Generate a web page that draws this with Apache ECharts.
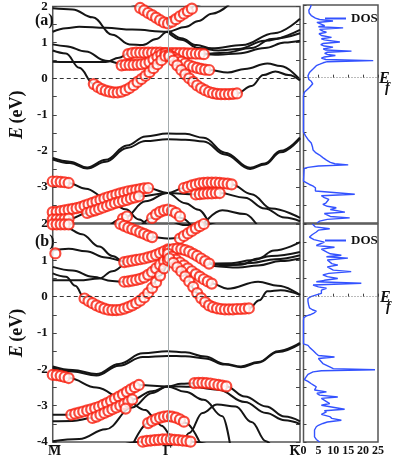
<!DOCTYPE html>
<html>
<head>
<meta charset="utf-8">
<script src="https://cdn.jsdelivr.net/npm/echarts@6/dist/echarts.min.js"></script>
<style>
html, body { margin: 0; padding: 0; background: #fff; }
#main { width: 398px; height: 457px; }
</style>
</head>
<body>
<div id="main"></div>
<script>
// k path: M = 0, Gamma = 0.866, K = 1.866
const GAMMA = 0.866;
const KMAX = 1.866;
const STEP = 0.03;
const kLabels = ['M', 'Γ', 'K'];
const kTicks = [0, GAMMA, KMAX];

// ---------- panel (a) bands [k, E] ----------
const bandA1 = [[0.45, 2.5], [0.63, 2.03], [0.75, 1.76], [0.866, 1.53], [0.97, 1.76], [1.08, 2.03], [1.25, 2.5]];
const bandA2 = [[0, 1.3], [0.1, 1.4], [0.2, 1.44], [0.4, 1.41], [0.6, 1.36], [0.866, 1.3], [1.0, 1.43], [1.1, 1.6], [1.2, 1.8], [1.33, 2.05]];
const bandA3 = [[0, 1.95], [0.15, 1.92], [0.3, 1.7], [0.45, 1.22], [0.58, 0.95], [0.68, 0.93], [0.78, 1.1], [0.866, 1.3], [0.97, 1.12], [1.085, 0.93], [1.2, 0.84], [1.43, 0.93], [1.67, 1.26], [1.866, 1.66]];
const bandA4 = [[0, 0.95], [0.1, 0.9], [0.25, 0.75], [0.4, 0.5], [0.55, 0.38], [0.65, 0.39], [0.73, 0.42], [0.79, 0.53], [0.866, 0.7], [0.94, 0.53], [1.03, 0.37], [1.12, 0.27], [1.18, 0.24], [1.32, 0.17], [1.45, 0.27], [1.62, 0.42], [1.72, 0.35], [1.866, -0.03]];
const bandA5 = [[0, 0.47], [0.2, 0.46], [0.4, 0.46], [0.5, 0.58], [0.57, 0.69], [0.7, 0.72], [0.866, 0.71], [1.0, 0.71], [1.14, 0.68], [1.25, 0.66], [1.4, 0.7], [1.6, 0.85], [1.75, 1.0], [1.866, 1.05]];
const bandA6 = [[0, 0.78], [0.1, 0.7], [0.2, 0.3], [0.31, -0.15], [0.4, -0.33], [0.47, -0.38], [0.56, -0.31], [0.68, 0.01], [0.79, 0.43], [0.866, 0.7], [0.91, 0.5], [0.97, 0.24], [1.03, 0.01], [1.09, -0.19], [1.15, -0.32], [1.21, -0.4], [1.3, -0.43], [1.39, -0.41], [1.5, -0.2], [1.59, 0.1], [1.68, 0.2], [1.78, 0.1], [1.866, -0.05]];
const bandA7 = [[0.866, 1.3], [0.97, 1.08], [1.1, 0.85], [1.25, 0.78], [1.4, 0.82], [1.6, 1.05], [1.866, 1.35]];
const bandA8 = [[1.0, 0.7], [1.14, 0.69], [1.3, 0.72], [1.5, 0.85], [1.65, 1.1], [1.866, 1.26]];
const bandA9 = [[0, -2.2], [0.13, -2.3], [0.26, -2.46], [0.4, -2.25], [0.56, -1.85], [0.7, -1.6], [0.866, -1.52], [1.0, -1.53], [1.14, -1.64], [1.3, -2.05], [1.49, -2.47], [1.6, -2.35], [1.72, -2.0], [1.866, -1.63]];
const bandA10 = [[0, -2.24], [0.13, -2.34], [0.26, -2.49], [0.4, -2.3], [0.56, -1.92], [0.7, -1.73], [0.866, -1.68], [1.0, -1.69], [1.14, -1.74], [1.3, -2.1], [1.49, -2.5], [1.6, -2.38], [1.72, -2.04], [1.866, -1.66]];
const bandA11 = [[0, -2.85], [0.12, -2.89], [0.25, -3.05], [0.4, -3.3], [0.55, -3.62], [0.65, -3.9], [0.72, -4.1]];
const bandA12 = [[0, -3.7], [0.21, -3.56], [0.45, -3.25], [0.6, -3.1], [0.72, -3.03], [0.866, -3.17], [1.0, -3.45], [1.1, -3.63], [1.19, -4.1]];
const bandA13 = [[0, -3.9], [0.13, -3.88], [0.26, -3.72], [0.45, -3.48], [0.655, -3.26], [0.866, -3.17], [1.08, -3.21], [1.26, -3.17], [1.45, -3.3], [1.6, -3.6], [1.75, -3.85], [1.866, -3.95]];
const bandA14 = [[0.42, -4.1], [0.54, -3.86], [0.7, -3.4], [0.866, -3.17], [0.99, -3.03], [1.14, -2.89], [1.35, -2.93], [1.5, -3.2], [1.65, -3.6], [1.866, -3.86]];
const bandA15 = [[0.66, -4.1], [0.75, -3.86], [0.866, -3.63], [0.97, -3.86], [1.05, -4.1]];
const bandA16 = [[1.12, -4.1], [1.28, -3.65], [1.45, -3.75], [1.55, -4.1]];

// ---------- panel (a) projected weights: start k and E per circle ----------
const redA_V = { k0: 0.60, e: [2.10, 2.03, 1.96, 1.89, 1.82, 1.76, 1.69, 1.62, 1.56, 1.53, 1.58, 1.65, 1.73, 1.80, 1.87, 1.94, 2.01, 2.08] };
const redA_flat = { k0: 0.57, e: [0.68, 0.71, 0.72, 0.72, 0.72, 0.72, 0.72, 0.72, 0.72, 0.71, 0.71, 0.71, 0.71, 0.71, 0.71, 0.70, 0.70, 0.69, 0.69, 0.68] };
const redA_low = { k0: 0.52, e: [0.37, 0.38, 0.38, 0.38, 0.39, 0.40, 0.42, 0.46, 0.53, 0.60, 0.67, 0.70] };
const redA_para = { k0: 0.31, e: [-0.15, -0.23, -0.29, -0.33, -0.36, -0.38, -0.38, -0.36, -0.32, -0.26, -0.18, -0.09, -0.01, 0.08, 0.18, 0.29, 0.40, 0.51, 0.63] };
const redA_midR = { k0: 0.88, e: [0.66, 0.59, 0.53, 0.47, 0.42, 0.37, 0.33, 0.30, 0.27, 0.25, 0.24] };
const redA_lowR = { k0: 0.88, e: [0.62, 0.50, 0.37, 0.24, 0.12, 0.01, -0.09, -0.19, -0.26, -0.32, -0.37, -0.40, -0.42, -0.43, -0.43, -0.43, -0.42, -0.41] };
const redA_1 = { k0: 0, e: [-2.85, -2.85, -2.86, -2.87, -2.89] };
const redA_2 = { k0: 0, e: [-3.70, -3.69, -3.67, -3.65, -3.63, -3.61, -3.59, -3.56, -3.52, -3.48, -3.44, -3.40, -3.36, -3.32, -3.28, -3.25, -3.21, -3.18, -3.15, -3.12, -3.10, -3.08, -3.06, -3.04, -3.03] };
const redA_3 = { k0: 0, e: [-3.90, -3.90, -3.90, -3.89, -3.88] };
const redA_4 = { k0: 0.26, e: [-3.72, -3.68, -3.65, -3.61, -3.57, -3.53, -3.49, -3.45, -3.42, -3.39, -3.36, -3.32, -3.29, -3.26] };
const redA_5 = { k0: 0.53, e: [-3.88, -3.82] };
const redA_6 = { k0: 0.75, e: [-3.86, -3.76, -3.69, -3.65, -3.63, -3.66, -3.72, -3.82] };
const redA_7 = { k0: 0.99, e: [-3.03, -3.00, -2.96, -2.93, -2.90, -2.89, -2.88, -2.88, -2.88, -2.89, -2.90, -2.91, -2.93] };
const redA_8 = { k0: 1.08, e: [-3.21, -3.20, -3.19, -3.18, -3.18, -3.17, -3.17] };

// ---------- panel (b) bands ----------
const bandB1 = [[0.4, 2.25], [0.49, 2.05], [0.63, 1.82], [0.75, 1.64], [0.866, 1.6], [0.96, 1.62], [1.04, 1.8], [1.14, 2.0], [1.22, 2.2]];
const bandB2 = [[0, 1.98], [0.1, 1.9], [0.22, 1.72], [0.35, 1.38], [0.45, 1.12], [0.54, 0.95], [0.72, 1.08], [0.866, 1.3], [0.94, 1.32], [1.06, 1.18], [1.18, 0.91], [1.3, 0.86], [1.42, 0.88], [1.55, 1.05], [1.67, 1.27], [1.866, 1.5]];
const bandB3 = [[0, 1.27], [0.12, 1.32], [0.25, 1.25], [0.4, 1.08], [0.54, 0.97], [0.72, 1.05], [0.866, 1.18], [0.99, 0.86], [1.2, 0.36], [1.32, 0.22], [1.55, 0.41], [1.7, 0.3], [1.866, 0.05]];
const bandB4 = [[0, 0.82], [0.15, 0.72], [0.3, 0.55], [0.45, 0.43], [0.54, 0.41], [0.66, 0.49], [0.75, 0.68], [0.866, 1.08], [0.99, 0.64], [1.09, 0.1], [1.2, -0.28], [1.35, -0.35], [1.48, -0.32], [1.56, -0.1], [1.62, 0.15], [1.72, 0.18], [1.866, 0.05]];
const bandB5 = [[0, 0.64], [0.1, 0.55], [0.17, 0.3], [0.24, -0.05], [0.33, -0.24], [0.45, -0.37], [0.54, -0.33], [0.63, -0.18], [0.72, 0.1], [0.81, 0.58], [0.866, 0.95]];
const bandB6 = [[0, 0.45], [0.2, 0.45], [0.35, 0.5], [0.45, 0.7], [0.54, 0.93]];
const bandB7 = [[1.18, 0.91], [1.35, 0.92], [1.5, 1.0], [1.65, 1.12], [1.866, 1.23]];
const bandB8 = [[1.18, 0.91], [1.35, 0.88], [1.5, 0.93], [1.68, 1.03], [1.866, 1.14]];
const bandB9 = [[1.2, 0.85], [1.4, 0.8], [1.55, 0.86], [1.72, 0.98], [1.866, 1.05]];
const bandB10 = [[0.48, 2.08], [0.55, 1.95], [0.62, 2.08]];
const bandB11 = [[0.9, 2.08], [1.0, 1.97], [1.12, 1.97], [1.25, 2.08]];
const bandB12 = [[0, -1.92], [0.15, -2.02], [0.33, -2.13], [0.5, -1.85], [0.68, -1.56], [0.866, -1.5], [1.0, -1.53], [1.15, -1.65], [1.3, -1.85], [1.42, -1.92], [1.55, -1.8], [1.7, -1.5], [1.866, -1.27]];
const bandB13 = [[0, -1.96], [0.15, -2.06], [0.33, -2.17], [0.5, -1.9], [0.68, -1.66], [0.866, -1.63], [1.0, -1.64], [1.15, -1.7], [1.3, -1.87], [1.42, -1.94], [1.55, -1.82], [1.7, -1.52], [1.866, -1.3]];
const bandB14 = [[0, -2.15], [0.12, -2.24], [0.33, -2.5], [0.56, -2.88], [0.7, -3.12], [0.76, -3.3], [0.82, -3.55], [0.9, -3.85], [0.98, -4.1]];
const bandB15 = [[0, -3.25], [0.14, -3.25], [0.35, -3.03], [0.5, -2.75], [0.65, -2.43], [0.866, -2.47], [1.0, -2.62], [1.14, -2.84], [1.28, -3.29], [1.34, -4.1]];
const bandB16 = [[0, -3.43], [0.15, -3.42], [0.3, -3.34], [0.45, -3.1], [0.6, -2.83], [0.75, -2.6], [0.866, -2.47], [0.97, -2.4], [1.07, -2.38], [1.2, -2.39], [1.31, -2.47], [1.45, -2.75], [1.61, -3.02], [1.75, -3.3], [1.866, -3.43]];
const bandB17 = [[0, -3.98], [0.2, -3.92], [0.4, -3.65], [0.6, -3.05], [0.75, -2.65], [0.866, -2.47], [1.05, -2.48], [1.25, -2.56], [1.45, -2.9], [1.61, -3.2], [1.75, -3.4], [1.866, -3.5]];
const bandB18 = [[0.6, -4.1], [0.725, -3.47], [0.866, -3.29], [1.0, -3.47], [1.12, -4.1]];
const bandB19 = [[0.98, -4.1], [1.03, -3.75], [1.13, -3.2], [1.24, -2.97], [1.38, -3.02], [1.5, -3.45], [1.61, -3.98], [1.65, -4.1]];
const bandB20 = [[0.5, -4.1], [0.68, -3.99], [0.866, -3.93], [1.05, -3.99], [1.2, -4.1]];

// ---------- panel (b) projected weights ----------
const redB_top = { k0: 0, e: [1.99, 1.99, 1.99, 1.99, 1.99] };
const redB_single = { k0: 0.02, e: [1.19] };
const redB_VL = { k0: 0.48, e: [2.06, 2.0, 1.95, 1.9, 1.86, 1.82, 1.77, 1.73, 1.68, 1.64] };
const redB_VR = { k0: 0.96, e: [1.60, 1.67, 1.74, 1.81, 1.88, 1.94, 2.0] };
const redB_A = { k0: 0.54, e: [0.95, 0.97, 0.99, 1.01, 1.03, 1.05, 1.08, 1.11, 1.15, 1.2, 1.25, 1.3] };
const redB_B = { k0: 0.54, e: [0.41, 0.42, 0.44, 0.46, 0.49, 0.53, 0.6, 0.68, 0.78, 0.88, 0.98, 1.08] };
const redB_para = { k0: 0.24, e: [-0.05, -0.12, -0.18, -0.24, -0.29, -0.33, -0.36, -0.37, -0.37, -0.36, -0.33, -0.29, -0.24, -0.18, -0.11, -0.02, 0.10, 0.24, 0.40, 0.58, 0.78, 1.0] };
const redB_upR = { k0: 0.88, e: [1.28, 1.31, 1.32, 1.31, 1.28, 1.24, 1.18, 1.12, 1.05, 0.98, 0.91] };
const redB_midR = { k0: 0.87, e: [1.18, 1.1, 1.02, 0.94, 0.86, 0.78, 0.7, 0.62, 0.55, 0.48, 0.42, 0.36] };
const redB_lowR = { k0: 0.88, e: [1.05, 0.93, 0.81, 0.70, 0.56, 0.42, 0.27, 0.10, -0.04, -0.15, -0.24, -0.29, -0.32, -0.34, -0.35, -0.35, -0.35, -0.34, -0.34, -0.33, -0.32] };
const redB_1 = { k0: 0, e: [-2.15, -2.16, -2.18, -2.21, -2.24] };
const redB_2 = { k0: 0.14, e: [-3.25, -3.22, -3.19, -3.16, -3.13, -3.10, -3.07, -3.03, -2.98, -2.93, -2.87, -2.81, -2.75, -2.69, -2.62, -2.55, -2.49, -2.43] };
const redB_3 = { k0: 0.30, e: [-3.34, -3.30, -3.25, -3.20, -3.15, -3.10, -3.05, -3.00, -2.95, -2.89, -2.83] };
const redB_4 = { k0: 0.72, e: [-3.48, -3.42, -3.37, -3.33, -3.30, -3.29, -3.30, -3.33, -3.38, -3.44] };
const redB_5 = { k0: 1.07, e: [-2.38, -2.37, -2.37, -2.38, -2.39, -2.41, -2.43, -2.45, -2.47] };
const redB_6 = { k0: 0.68, e: [-3.99, -3.97, -3.96, -3.95, -3.94, -3.93, -3.93, -3.93, -3.94, -3.95, -3.96, -3.97, -3.99] };
const redB_7 = { k0: 0.55, e: [-3.08] };

// ---------- DOS (E, states/eV) ----------
const dosA_E = [2.0, 1.93, 1.86, 1.78, 1.71, 1.64, 1.6, 1.56, 1.52, 1.47, 1.43, 1.4, 1.37, 1.33, 1.28, 1.25, 1.21, 1.16, 1.11, 1.07, 1.04, 0.98, 0.94, 0.91, 0.87, 0.84, 0.79, 0.76, 0.73, 0.7, 0.67, 0.64, 0.61, 0.57, 0.54, 0.5, 0.47, 0.44, 0.41, 0.37, 0.33, 0.28, 0.23, 0.18, 0.14, 0.09, 0.05, 0.0, -0.05, -0.1, -0.17, -0.22, -0.27, -0.33, -0.4, -0.5, -1.0, -1.5, -1.55, -1.6, -1.65, -1.7, -1.75, -1.8, -1.9, -1.99, -2.07, -2.13, -2.2, -2.27, -2.33, -2.37, -2.4, -2.43, -2.47, -2.5, -2.85, -2.89, -2.94, -2.98, -3.03, -3.07, -3.12, -3.17, -3.21, -3.25, -3.3, -3.35, -3.4, -3.45, -3.49, -3.54, -3.58, -3.63, -3.7, -3.74, -3.77, -3.82, -3.86, -3.9, -3.95, -4.0];
const dosA_V = [2.6, 2.3, 1.8, 1.9, 2.6, 4.0, 5.4, 9.9, 4.5, 4.8, 7.1, 5.0, 13.3, 5.4, 6.5, 7.7, 5.2, 6.0, 9.4, 6.0, 7.0, 12.2, 6.5, 5.8, 7.0, 9.9, 6.6, 7.5, 16.1, 8.0, 7.1, 8.0, 10.7, 7.0, 6.0, 7.5, 23.4, 8.0, 6.6, 5.5, 4.3, 3.8, 3.1, 2.5, 2.0, 1.7, 1.5, 1.2, 1.8, 2.6, 3.1, 2.8, 2.0, 1.2, 0.3, 0.0, 0.0, 0.0, 0.5, 0.7, 0.4, 1.5, 1.8, 2.6, 3.0, 3.2, 4.2, 5.4, 6.5, 7.7, 9.0, 10.5, 15.0, 5.0, 1.5, 0.2, 0.0, 0.9, 2.0, 3.1, 4.0, 4.3, 4.0, 3.8, 17.2, 6.0, 7.0, 8.5, 9.0, 7.5, 6.5, 8.0, 11.0, 9.0, 13.9, 7.0, 7.5, 9.0, 15.5, 8.0, 5.4, 4.5];
const dosB_E = [2.0, 1.96, 1.92, 1.87, 1.83, 1.78, 1.71, 1.64, 1.57, 1.5, 1.45, 1.41, 1.36, 1.31, 1.27, 1.22, 1.18, 1.14, 1.1, 1.06, 1.01, 0.96, 0.91, 0.87, 0.82, 0.78, 0.73, 0.69, 0.64, 0.6, 0.55, 0.5, 0.45, 0.41, 0.37, 0.32, 0.27, 0.23, 0.18, 0.14, 0.09, 0.05, 0.0, -0.05, -0.13, -0.22, -0.31, -0.36, -0.4, -0.45, -0.49, -0.53, -0.58, -0.65, -1.3, -1.34, -1.41, -1.48, -1.57, -1.62, -1.66, -1.7, -1.75, -1.84, -1.93, -1.98, -2.01, -2.04, -2.07, -2.14, -2.21, -2.28, -2.33, -2.39, -2.44, -2.48, -2.53, -2.57, -2.62, -2.66, -2.71, -2.76, -2.8, -2.85, -2.9, -2.94, -2.99, -3.03, -3.1, -3.14, -3.17, -3.24, -3.3, -3.35, -3.4, -3.45, -3.49, -3.54, -3.58, -3.67, -3.77, -3.86, -3.93, -4.0];
const dosB_V = [3.0, 3.2, 4.0, 8.8, 5.0, 4.3, 3.0, 2.0, 3.5, 7.0, 5.5, 4.3, 10.4, 6.0, 6.5, 8.0, 9.0, 12.7, 7.7, 14.9, 8.0, 7.7, 9.5, 11.5, 8.0, 7.7, 10.0, 16.0, 8.5, 6.5, 8.0, 11.5, 7.0, 4.3, 19.4, 3.2, 5.0, 7.7, 6.0, 5.4, 6.0, 4.3, 2.5, 1.5, 1.5, 1.7, 2.0, 3.0, 4.3, 3.5, 2.5, 1.0, 0.1, 0.0, 0.0, 1.5, 2.2, 3.2, 4.3, 5.0, 10.4, 5.0, 5.4, 6.5, 8.8, 10.0, 24.0, 6.0, 3.2, 1.5, 0.9, 0.3, 1.5, 2.5, 3.5, 4.3, 4.0, 3.7, 7.7, 4.5, 5.4, 11.5, 6.0, 6.5, 8.0, 8.8, 6.0, 6.5, 13.8, 7.0, 7.7, 6.0, 8.8, 9.5, 12.7, 8.0, 6.5, 5.0, 4.3, 3.7, 3.7, 3.7, 4.3, 5.4];

const bandsA = [bandA1, bandA2, bandA3, bandA4, bandA5, bandA6, bandA7, bandA8, bandA9, bandA10, bandA11, bandA12, bandA13, bandA14, bandA15, bandA16];
const bandsB = [bandB1, bandB2, bandB3, bandB4, bandB5, bandB6, bandB7, bandB8, bandB9, bandB10, bandB11, bandB12, bandB13, bandB14, bandB15, bandB16, bandB17, bandB18, bandB19, bandB20];
const redsA = [redA_V, redA_flat, redA_low, redA_para, redA_midR, redA_lowR, redA_1, redA_2, redA_3, redA_4, redA_5, redA_6, redA_7, redA_8];
const redsB = [redB_top, redB_single, redB_VL, redB_VR, redB_A, redB_B, redB_para, redB_upR, redB_midR, redB_lowR, redB_1, redB_2, redB_3, redB_4, redB_5, redB_6, redB_7];

const FONT = '"Liberation Serif", "Times New Roman", serif';
const RED = '#f81e0e';
const BLUE = '#3352ff';

function redPoints(list) {
  const out = [];
  list.forEach(seg => {
    seg.e.forEach((e, i) => out.push([seg.k0 + i * STEP, e]));
  });
  return out;
}

function bandY(grid, position, labels, hideMin) {
  return {
    type: 'value', gridIndex: grid, min: -4, max: 2, interval: 0.5, position: position,
    axisLine: { show: false }, splitLine: { show: false },
    axisTick: { show: true, inside: true, length: 4, lineStyle: { color: '#444', width: 1 } },
    axisLabel: {
      show: labels, margin: 5, color: '#111', fontFamily: FONT, fontWeight: 'bold', fontSize: 13,
      formatter: v => (Number.isInteger(v) && !(hideMin && v === -4)) ? String(v) : ''
    }
  };
}

function kAxis(grid) {
  return {
    type: 'value', gridIndex: grid, min: 0, max: KMAX,
    axisLine: { show: false }, axisTick: { show: false }, axisLabel: { show: false }, splitLine: { show: false }
  };
}

function dosX(grid, labels) {
  return {
    type: 'value', gridIndex: grid, min: 0, max: 25, interval: 5,
    axisLine: { show: false }, splitLine: { show: false },
    axisTick: { show: true, inside: true, length: 3, lineStyle: { color: '#444' } },
    axisLabel: { show: labels, margin: 3, color: '#111', fontFamily: FONT, fontWeight: 'bold', fontSize: 12 }
  };
}

function dosY(grid) {
  return {
    type: 'value', gridIndex: grid, min: -4, max: 2, interval: 0.5,
    axisLine: { show: false }, splitLine: { show: false },
    axisTick: { show: true, inside: true, length: 3, lineStyle: { color: '#444' } },
    axisLabel: { show: false }
  };
}

function bandSeries(list, xi, yi) {
  return list.map(b => ({
    type: 'line', xAxisIndex: xi, yAxisIndex: yi, data: b, symbol: 'none',
    smooth: 0.4, smoothMonotone: 'x', silent: true, z: 3,
    lineStyle: { color: '#151515', width: 2 }
  }));
}

function redSeries(list, xi, yi) {
  return {
    type: 'scatter', xAxisIndex: xi, yAxisIndex: yi, data: redPoints(list), clip: true,
    symbol: 'circle', symbolSize: 10, silent: true, z: 4,
    itemStyle: { color: '#fff', borderColor: RED, borderWidth: 2.2 }
  };
}

function guideSeries(xi, yi) {
  return {
    type: 'line', xAxisIndex: xi, yAxisIndex: yi, data: [], silent: true, z: 1,
    markLine: {
      silent: true, symbol: 'none', label: { show: false }, animation: false,
      data: [
        { xAxis: GAMMA, lineStyle: { color: '#a3abad', width: 1, type: 'solid' } },
        { yAxis: 0, lineStyle: { color: '#333', width: 1, type: [4, 3] } }
      ]
    }
  };
}

function dosSeries(E, V, xi, yi) {
  return {
    name: 'DOS', type: 'line', xAxisIndex: xi, yAxisIndex: yi, symbol: 'none', silent: true,
    data: E.map((e, i) => [V[i], e]),
    lineStyle: { color: BLUE, width: 1.4 }, itemStyle: { color: BLUE },
    markLine: {
      silent: true, symbol: 'none', label: { show: false }, animation: false,
      data: [{ yAxis: 0, lineStyle: { color: '#777', width: 1, type: [1, 2] } }]
    }
  };
}

const gridStyle = { show: true, borderColor: '#555', borderWidth: 1.5, backgroundColor: 'transparent' };
const legendStyle = {
  data: ['DOS'], icon: 'rect', itemWidth: 21, itemHeight: 2, itemGap: 4,
  textStyle: { fontFamily: FONT, fontWeight: 'bold', fontSize: 13, color: '#111' }
};
const axisName = {
  name: '{i|E} {b|(eV)}', nameLocation: 'middle', nameGap: 16, nameRotate: 90,
  nameTextStyle: { rich: {
    i: { fontFamily: FONT, fontStyle: 'italic', fontWeight: 'bold', fontSize: 18, color: '#111' },
    b: { fontFamily: FONT, fontWeight: 'bold', fontSize: 18, color: '#111' }
  } }
};

const chart = echarts.init(document.getElementById('main'), null, { renderer: 'canvas' });

const option = {
  animation: false,
  backgroundColor: '#fff',
  grid: [
    Object.assign({ left: 33, top: 5, width: 267, height: 218 }, gridStyle),
    Object.assign({ left: 303.5, top: 5, width: 74.5, height: 218 }, gridStyle),
    Object.assign({ left: 33, top: 224, width: 267, height: 218 }, gridStyle),
    Object.assign({ left: 303.5, top: 224, width: 74.5, height: 218 }, gridStyle)
  ],
  legend: [
    Object.assign({ left: 320, top: 7 }, legendStyle),
    Object.assign({ left: 320, top: 229 }, legendStyle)
  ],
  xAxis: [kAxis(0), dosX(1, false), kAxis(2), dosX(3, true)],
  yAxis: [
    Object.assign(bandY(0, 'left', true, true), axisName),
    bandY(0, 'right', false, false),
    dosY(1),
    Object.assign(bandY(2, 'left', true, false), axisName),
    bandY(2, 'right', false, false),
    dosY(3)
  ],
  series: [].concat(
    [guideSeries(0, 0), guideSeries(2, 3)],
    bandSeries(bandsA, 0, 0),
    bandSeries(bandsB, 2, 3),
    [redSeries(redsA, 0, 0), redSeries(redsB, 2, 3)],
    [dosSeries(dosA_E, dosA_V, 1, 2), dosSeries(dosB_E, dosB_V, 3, 5)]
  )
};
chart.setOption(option);

// panel tags, Fermi labels and high-symmetry labels with overbars
const yBottom = chart.convertToPixel({ yAxisIndex: 3 }, -4);
const textBase = { fontFamily: FONT, fontWeight: 'bold', fill: '#111' };
const graphics = [
  { type: 'text', left: 35, top: 13, style: Object.assign({ text: '(a)', fontSize: 16 }, textBase) },
  { type: 'text', left: 35, top: 234, style: Object.assign({ text: '(b)', fontSize: 16 }, textBase) },
  { type: 'text', left: 379, top: 71, style: Object.assign({ text: 'E', fontSize: 16, fontStyle: 'italic' }, textBase) },
  { type: 'text', left: 385, top: 81, style: Object.assign({ text: 'f', fontSize: 14, fontStyle: 'italic' }, textBase) },
  { type: 'text', left: 380, top: 290, style: Object.assign({ text: 'E', fontSize: 16, fontStyle: 'italic' }, textBase) },
  { type: 'text', left: 386, top: 300, style: Object.assign({ text: 'f', fontSize: 14, fontStyle: 'italic' }, textBase) }
];
kTicks.forEach((k, i) => {
  let x = chart.convertToPixel({ xAxisIndex: 2 }, k);
  if (i === 0) x += 2;
  if (i === 2) x -= 5;
  graphics.push({
    type: 'text', x: x, y: yBottom + 2,
    style: Object.assign({ text: kLabels[i], fontSize: 14, textAlign: 'center', textVerticalAlign: 'top' }, textBase)
  });
  graphics.push({
    type: 'rect', shape: { x: x - 5, y: yBottom + 3, width: 10, height: 1.2 },
    style: { fill: '#111' }
  });
});
chart.setOption({ graphic: graphics });
</script>
</body>
</html>
